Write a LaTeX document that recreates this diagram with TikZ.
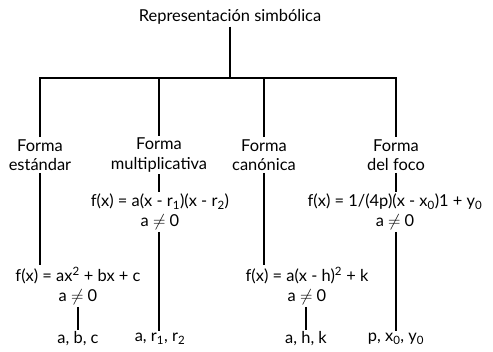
\documentclass[tikz,border=0pt]{standalone}
\usepackage{fontspec}
\setmainfont{Lato}
\usepackage{tikz}
\usetikzlibrary{positioning}
\tikzset{
  ln/.style={line width=1.1bp,black},
  lbl/.style={align=center,inner sep=2pt,font=\fontsize{16.5}{19.5}\selectfont}
}

\begin{document}
\begin{tikzpicture}[x=1bp,y=-1bp]
\useasboundingbox (0,0) rectangle (493,351);
% top
\node[lbl] (root) at (230,17) {Representación simbólica};
\coordinate (bar) at (230,78);
% forms
\node[lbl] (fe) at (40,155) {Forma\\estándar};
\node[lbl] (fm) at (159,155) {Forma\\multiplicativa};
\node[lbl] (fc) at (264,155) {Forma\\canónica};
\node[lbl] (ff) at (396,155) {Forma\\del foco};
% equations
\node[lbl] (eqe) at (78,286) {f(x) = ax\textsuperscript{2} + bx + c\\a $\neq$ 0};
\node[lbl] (eqm) at (160,212) {f(x) = a(x - r\textsubscript{1})(x - r\textsubscript{2})\\a $\neq$ 0};
\node[lbl] (eqc) at (307,286) {f(x) = a(x - h)\textsuperscript{2} + k\\a $\neq$ 0};
\node[lbl] (eqf) at (395,212) {f(x) = 1/(4p)(x - x\textsubscript{0})1 + y\textsubscript{0}\\a $\neq$ 0};
% parameters
\node[lbl] (pe) at (78,339) {a, b, c};
\node[lbl] (pm) at (160,339) {a, r\textsubscript{1}, r\textsubscript{2}};
\node[lbl] (pc) at (306,339) {a, h, k};
\node[lbl] (pf) at (396,339) {p, x\textsubscript{0}, y\textsubscript{0}};
% tree lines
\draw[ln] (root) -- (bar);
\draw[ln] (fe.north) |- (bar) -| (ff.north);
\draw[ln] (fm.north) -- (fm.north |- bar);
\draw[ln] (fc.north) -- (fc.north |- bar);
\draw[ln] (fe.south) -- (fe.south |- eqe.north);
\draw[ln] (fm.south) -- (fm.south |- eqm.north);
\draw[ln] (fc.south) -- (fc.south |- eqc.north);
\draw[ln] (ff.south) -- (ff.south |- eqf.north);
\draw[ln] (eqe.south) -- (pe.north);
\draw[ln] (eqm.south -| fm.south) -- (fm.south |- pm.north);
\draw[ln] (eqc.south -| pc.north) -- (pc.north);
\draw[ln] (eqf.south -| pf.north) -- (pf.north);
\end{tikzpicture}
\end{document}
